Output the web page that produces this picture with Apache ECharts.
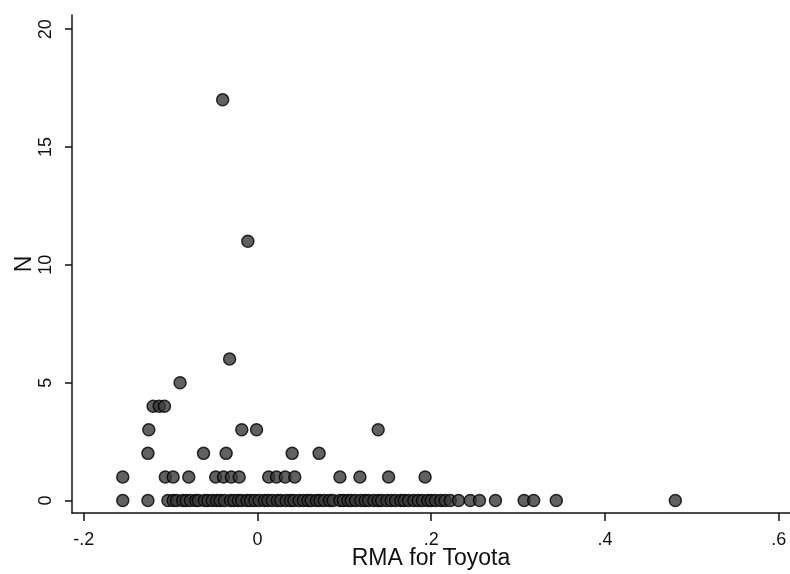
<!DOCTYPE html>
<html>
<head>
<meta charset="utf-8">
<script src="https://cdn.jsdelivr.net/npm/echarts@6/dist/echarts.min.js"></script>
<style>
  html, body { margin: 0; padding: 0; background: #fff; }
  #chart { width: 790px; height: 574px; }
</style>
</head>
<body>
<div id="chart"></div>
<script>
// RMA values for each count N
const rmaN0 = [-0.155, -0.126, -0.103, -0.097, -0.093, -0.086, -0.082, -0.077, -0.071, -0.068,
  -0.061, -0.057, -0.052, -0.047, -0.043, -0.038, -0.031, -0.027, -0.022, -0.018, -0.012,
  -0.008, -0.003, 0.002, 0.008, 0.012, 0.017, 0.023, 0.027, 0.033, 0.038, 0.042, 0.048,
  0.053, 0.058, 0.062, 0.068, 0.072, 0.077, 0.083, 0.087, 0.095, 0.099, 0.104, 0.108,
  0.113, 0.119, 0.124, 0.128, 0.134, 0.139, 0.143, 0.149, 0.154, 0.159, 0.165, 0.169,
  0.174, 0.18, 0.185, 0.19, 0.196, 0.2, 0.205, 0.211, 0.216, 0.222, 0.2315, 0.245,
  0.2556, 0.274, 0.307, 0.318, 0.344, 0.481]
const rmaN1 = [-0.155, -0.106, -0.097, -0.079, -0.048, -0.039, -0.030, -0.021,
  0.013, 0.022, 0.032, 0.043, 0.095, 0.118, 0.151, 0.193]
const rmaN2 = [-0.126, -0.062, -0.036, 0.040, 0.071]
const rmaN3 = [-0.125, -0.018, -0.001, 0.139]
const rmaN4 = [-0.120, -0.113, -0.107]
const rmaN5 = [-0.089]
const rmaN6 = [-0.032]
const rmaN11 = [-0.011]
const rmaN17 = [-0.040]

const xTicks = [-0.2, 0, 0.2, 0.4, 0.6]
const xTickLabels = ['-.2', '0', '.2', '.4', '.6']
const yTicks = [0, 5, 10, 15, 20]

// build [x, y] pairs
const groups = [
  [0, rmaN0], [1, rmaN1], [2, rmaN2], [3, rmaN3], [4, rmaN4],
  [5, rmaN5], [6, rmaN6], [11, rmaN11], [17, rmaN17],
]
const points = []
groups.forEach(([n, arr]) => arr.forEach((v) => points.push([v, n])))

const chart = echarts.init(document.getElementById('chart'))

const option = {
  animation: false,
  backgroundColor: '#fff',
  grid: {
    left: 72,
    right: 0,
    top: 15,
    bottom: 61,
    outerBoundsMode: 'none',
  },
  xAxis: {
    type: 'value',
    min: -0.2134,
    max: 0.613,
    name: 'RMA for Toyota',
    nameLocation: 'middle',
    nameGap: 34,
    nameMoveOverlap: false,
    nameTextStyle: { color: '#111', fontSize: 23, fontFamily: 'Liberation Sans' },
    axisLine: { onZero: false, lineStyle: { color: '#111', width: 1.5 } },
    axisTick: {
      customValues: xTicks,
      length: 8,
      lineStyle: { color: '#111', width: 1.5 },
    },
    axisLabel: {
      customValues: xTicks,
      color: '#111',
      fontSize: 18,
      fontFamily: 'Liberation Sans',
      margin: 18,
      formatter: (v) => xTickLabels[xTicks.findIndex((t) => Math.abs(t - v) < 1e-6)],
    },
    splitLine: { show: false },
  },
  yAxis: {
    type: 'value',
    min: -0.53,
    max: 20.6,
    name: 'N',
    nameLocation: 'middle',
    nameGap: 36,
    nameMoveOverlap: false,
    nameRotate: 90,
    nameTextStyle: { color: '#111', fontSize: 23, fontFamily: 'Liberation Sans' },
    axisLine: { show: true, onZero: false, lineStyle: { color: '#111', width: 1.5 } },
    axisTick: {
      show: true,
      customValues: yTicks,
      length: 7,
      lineStyle: { color: '#111', width: 1.5 },
    },
    axisLabel: {
      customValues: yTicks,
      rotate: 90,
      color: '#111',
      fontSize: 18,
      fontFamily: 'Liberation Sans',
      margin: 17,
    },
    splitLine: { show: false },
  },
  series: [
    {
      type: 'scatter',
      data: points,
      symbol: 'circle',
      symbolSize: 12,
      itemStyle: {
        color: '#3a3a3a',
        borderColor: '#000',
        borderWidth: 1.5,
      },
    },
  ],
}

chart.setOption(option)
</script>
</body>
</html>
